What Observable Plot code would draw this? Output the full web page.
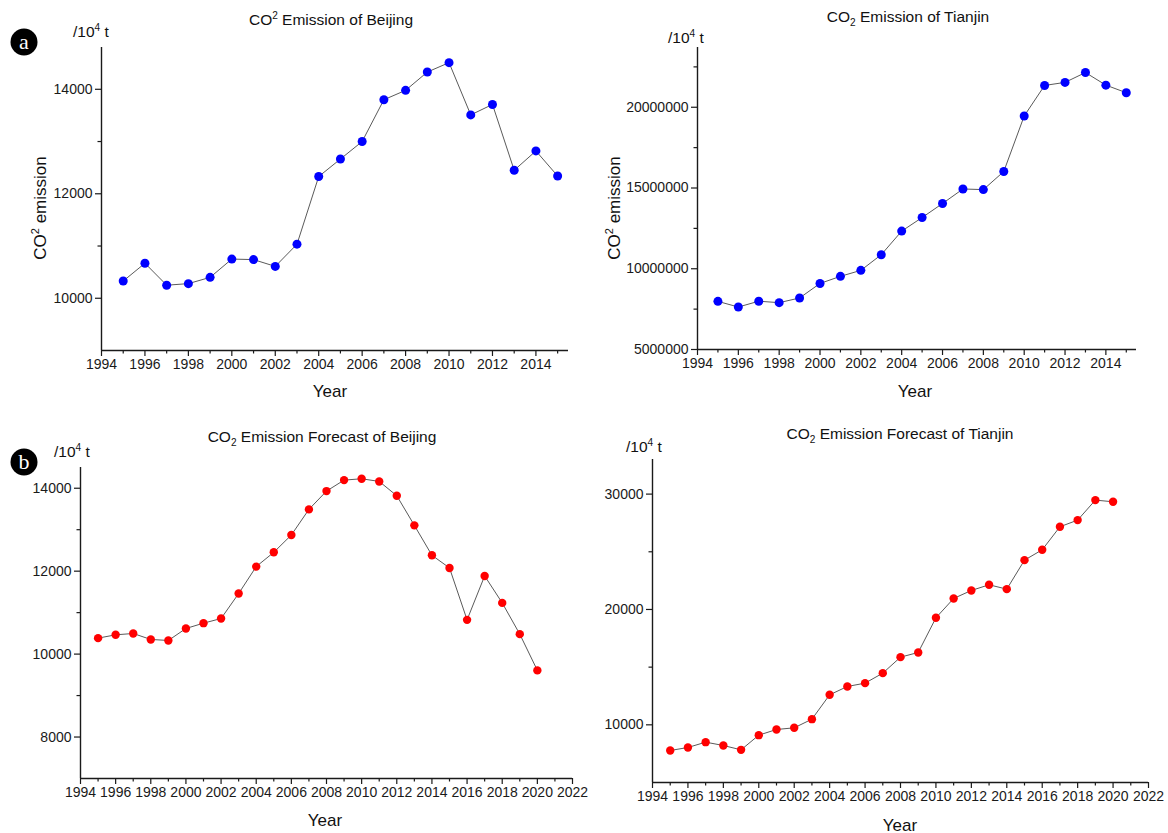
<!DOCTYPE html>
<html><head><meta charset="utf-8">
<script src="https://cdn.jsdelivr.net/npm/d3@7"></script>
<script src="https://cdn.jsdelivr.net/npm/@observablehq/plot@0.6"></script>
<style>
body{margin:0;background:#fff;}
#root{position:relative;width:1168px;height:833px;font-family:"Liberation Sans",Arial,sans-serif;color:#111;overflow:hidden;background:#fff}
.panel{position:absolute}
.t{position:absolute;white-space:nowrap;line-height:1;transform:translate(-50%,-50%)}
.title{font-size:15.5px}
.unit{font-size:15.5px;transform:translate(0,-50%)}
.ylab{font-size:17px;transform:translate(-50%,-50%) rotate(-90deg)}
.xlab{font-size:17px}
.badge{position:absolute;width:27px;height:27px;border-radius:50%;background:#000;color:#fff;font-family:"Liberation Serif","DejaVu Serif",serif;font-size:22px;line-height:25px;text-align:center;transform:translate(-50%,-50%)}
sup,sub{font-size:65%;line-height:0}
</style></head><body><div id="root"></div>
<script>
// ---- data ----
const years = [1995,1996,1997,1998,1999,2000,2001,2002,2003,2004,2005,2006,2007,2008,2009,2010,2011,2012,2013,2014,2015];
const beijingCO2 = [10330,10670,10250,10280,10400,10750,10740,10610,11035,12330,12665,13000,13800,13980,14330,14510,13510,13710,12450,12820,12340];
const tianjinCO2 = [7980000,7630000,7990000,7900000,8190000,9090000,9530000,9900000,10870000,12330000,13170000,14040000,14940000,14900000,16020000,19460000,21350000,21540000,22150000,21370000,20900000];
const forecastYears = [1995,1996,1997,1998,1999,2000,2001,2002,2003,2004,2005,2006,2007,2008,2009,2010,2011,2012,2013,2014,2015,2016,2017,2018,2019,2020];
const beijingForecast = [10385,10465,10497,10353,10329,10618,10746,10858,11460,12110,12455,12872,13490,13931,14196,14228,14164,13819,13105,12383,12078,10826,11885,11235,10481,9607];
const tianjinForecast = [7775,8035,8497,8208,7832,9104,9595,9740,10491,12601,13324,13613,14480,15867,16272,19277,20954,21647,22139,21763,24277,25173,27168,27746,29480,29335];

// ---- tick labels ----
const yearTicksA = [1994,1996,1998,2000,2002,2004,2006,2008,2010,2012,2014];
const yearMinorA = [1995,1997,1999,2001,2003,2005,2007,2009,2011,2013,2015];
const yearTicksB = [1994,1996,1998,2000,2002,2004,2006,2008,2010,2012,2014,2016,2018,2020,2022];
const yearMinorB = [1995,1997,1999,2001,2003,2005,2007,2009,2011,2013,2015,2017,2019,2021];
const yTicksBeijing = [10000,12000,14000];
const yMinorBeijing = [11000,13000];
const yTicksTianjin = [5000000,10000000,15000000,20000000];
const yMinorTianjin = [7500000,12500000,17500000,22500000];
const yTicksBF = [8000,10000,12000,14000];
const yMinorBF = [9000,11000,13000];
const yTicksTF = [10000,20000,30000];
const yMinorTF = [15000,25000];

const root = document.getElementById("root");

function panel(o) {
  const data = o.xs.map((d, i) => ({year: d, value: o.ys[i]}));
  const svg = Plot.plot({
    width: o.w, height: o.h,
    marginLeft: o.ml, marginRight: o.mr, marginTop: o.mt, marginBottom: o.mb,
    x: {domain: o.xDomain, label: null},
    y: {domain: o.yDomain, label: null},
    style: {fontFamily: "Liberation Sans, Arial, sans-serif", fontSize: "14px", color: "#1a1a1a", background: "transparent", overflow: "visible"},
    marks: [
      Plot.axisX(o.xTicks, {tickSize: 6, tickPadding: 3, tickFormat: d => String(d), label: null, strokeWidth: 1.2, fontSize: 14}),
      Plot.axisX(o.xMinor, {tickSize: 3.5, tickFormat: () => "", label: null, strokeWidth: 1.2}),
      Plot.axisY(o.yTicks, {tickSize: 6, tickPadding: 3, tickFormat: d => String(d), label: null, strokeWidth: 1.2, fontSize: 14}),
      Plot.axisY(o.yMinor, {tickSize: 3.5, tickFormat: () => "", label: null, strokeWidth: 1.2}),
      Plot.ruleY([o.yDomain[0]], {stroke: "#1a1a1a", strokeWidth: 1.4}),
      Plot.ruleX([o.xDomain[0]], {stroke: "#1a1a1a", strokeWidth: 1.4}),
      Plot.line(data, {x: "year", y: "value", stroke: "#5a5a5a", strokeWidth: 1}),
      Plot.dot(data, {x: "year", y: "value", r: o.r, fill: o.color, stroke: "none"})
    ]
  });
  const div = document.createElement("div");
  div.className = "panel";
  div.style.left = o.left + "px";
  div.style.top = o.top + "px";
  div.appendChild(svg);
  root.appendChild(div);
}

panel({left: 0, top: 0, w: 580, h: 410, ml: 101, mr: 12, mt: 47, mb: 60,
  xDomain: [1994, 2015.5], yDomain: [9000, 14800], xs: years, ys: beijingCO2,
  xTicks: yearTicksA, xMinor: yearMinorA, yTicks: yTicksBeijing, yMinor: yMinorBeijing,
  color: "#0000ff", r: 4.5});
panel({left: 580, top: 0, w: 588, h: 410, ml: 117, mr: 32, mt: 47, mb: 61,
  xDomain: [1994, 2015.5], yDomain: [5000000, 23700000], xs: years, ys: tianjinCO2,
  xTicks: yearTicksA, xMinor: yearMinorA, yTicks: yTicksTianjin, yMinor: yMinorTianjin,
  color: "#0000ff", r: 4.5});
panel({left: 0, top: 410, w: 590, h: 423, ml: 80, mr: 18, mt: 57, mb: 55,
  xDomain: [1994, 2022], yDomain: [7000, 14500], xs: forecastYears, ys: beijingForecast,
  xTicks: yearTicksB, xMinor: yearMinorB, yTicks: yTicksBF, yMinor: yMinorBF,
  color: "#ff0000", r: 4.2});
panel({left: 580, top: 410, w: 588, h: 423, ml: 72, mr: 20, mt: 49, mb: 51,
  xDomain: [1994, 2022], yDomain: [5000, 33000], xs: forecastYears, ys: tianjinForecast,
  xTicks: yearTicksB, xMinor: yearMinorB, yTicks: yTicksTF, yMinor: yMinorTF,
  color: "#ff0000", r: 4.2});

function text(html, cx, cy, cls) {
  const s = document.createElement("div");
  s.className = "t " + cls;
  s.style.left = cx + "px";
  s.style.top = cy + "px";
  s.innerHTML = html;
  root.appendChild(s);
}
function badge(letter, cx, cy) {
  const b = document.createElement("div");
  b.className = "badge";
  b.style.left = cx + "px";
  b.style.top = cy + "px";
  b.textContent = letter;
  root.appendChild(b);
}

text("CO<sup>2</sup> Emission of Beijing", 331, 20, "title");
text("CO<sub>2</sub> Emission of Tianjin", 908, 17, "title");
text("CO<sub>2</sub> Emission Forecast of Beijing", 322, 437, "title");
text("CO<sub>2</sub> Emission Forecast of Tianjin", 900, 434, "title");

text("/10<sup>4</sup> t", 73, 32, "unit");
text("/10<sup>4</sup> t", 668, 38, "unit");
text("/10<sup>4</sup> t", 54, 452, "unit");
text("/10<sup>4</sup> t", 626, 447, "unit");

text("CO<sup>2</sup> emission", 40, 208, "ylab");
text("CO<sup>2</sup> emission", 614, 208, "ylab");

text("Year", 330, 391, "xlab");
text("Year", 915, 391, "xlab");
text("Year", 325, 820, "xlab");
text("Year", 900, 825, "xlab");

badge("a", 24, 42);
badge("b", 24, 462);
</script>
</body></html>
